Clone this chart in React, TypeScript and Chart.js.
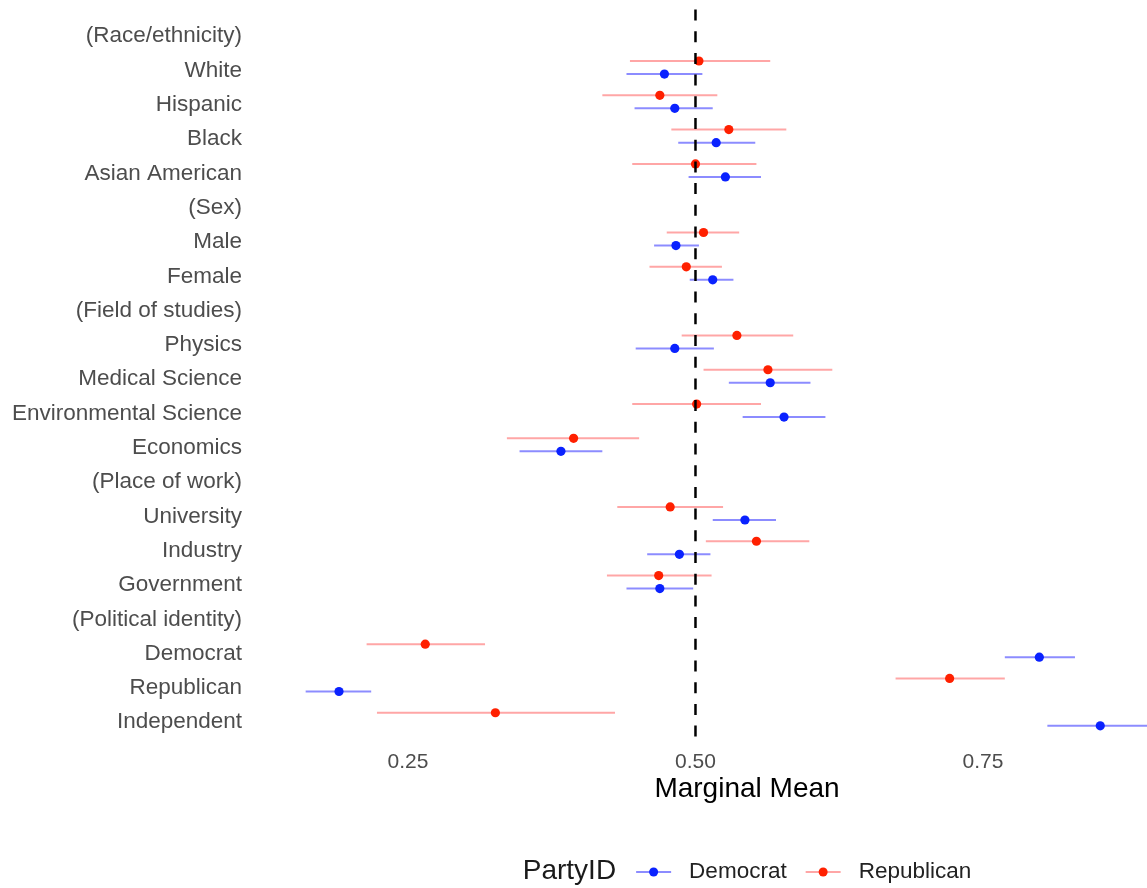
import React, { useEffect, useRef } from 'react';
import { Chart, registerables } from 'chart.js';

Chart.register(...registerables);

const FONT = "'Liberation Sans', Arial, Helvetica, sans-serif";

const LABELS = [
  '(Race/ethnicity)', 'White', 'Hispanic', 'Black', 'Asian American',
  '(Sex)', 'Male', 'Female',
  '(Field of studies)', 'Physics', 'Medical Science', 'Environmental Science', 'Economics',
  '(Place of work)', 'University', 'Industry', 'Government',
  '(Political identity)', 'Democrat', 'Republican', 'Independent',
];

const REP_MEAN = [null, 0.503, 0.469, 0.529, 0.500, null, 0.507, 0.492, null, 0.536, 0.563, 0.501, 0.394, null, 0.478, 0.553, 0.468, null, 0.265, 0.721, 0.326];
const REP_LO = [null, 0.443, 0.419, 0.479, 0.445, null, 0.475, 0.460, null, 0.488, 0.507, 0.445, 0.336, null, 0.432, 0.509, 0.423, null, 0.214, 0.674, 0.223];
const REP_HI = [null, 0.565, 0.519, 0.579, 0.553, null, 0.538, 0.523, null, 0.585, 0.619, 0.557, 0.451, null, 0.524, 0.599, 0.514, null, 0.317, 0.769, 0.430];

const DEM_MEAN = [null, 0.473, 0.482, 0.518, 0.526, null, 0.483, 0.515, null, 0.482, 0.565, 0.577, 0.383, null, 0.543, 0.486, 0.469, null, 0.799, 0.190, 0.852];
const DEM_LO = [null, 0.440, 0.447, 0.485, 0.494, null, 0.464, 0.495, null, 0.448, 0.529, 0.541, 0.347, null, 0.515, 0.458, 0.440, null, 0.769, 0.161, 0.806];
const DEM_HI = [null, 0.506, 0.515, 0.552, 0.557, null, 0.503, 0.533, null, 0.516, 0.600, 0.613, 0.419, null, 0.570, 0.513, 0.498, null, 0.830, 0.218, 0.898];

const X_TICKS = [0.25, 0.5, 0.75];
const REF_LINE = 0.5;
const X_MIN = 0.1126;
const X_MAX = 0.977;
const Y_MIN = -0.75;
const Y_MAX = 20.75;
const DODGE = 0.19;

const REP_POINT = '#ff2000';
const DEM_POINT = '#0a22ff';
const REP_LINE = 'rgba(255,0,0,0.35)';
const DEM_LINE = 'rgba(0,0,255,0.45)';

const LEGEND_TITLE = 'PartyID';
const SERIES = [
  { name: 'Democrat', point: DEM_POINT, line: DEM_LINE },
  { name: 'Republican', point: REP_POINT, line: REP_LINE },
];

const CANVAS_W = 1244;
const CANVAS_H = 888;

function pointsFor(mean: (number | null)[], offset: number) {
  const out: { x: number; y: number }[] = [];
  mean.forEach((m, i) => {
    if (m !== null) out.push({ x: m, y: i + offset });
  });
  return out;
}

function barsFor(lo: (number | null)[], hi: (number | null)[], offset: number) {
  const out: { x: number | null; y: number | null }[] = [];
  lo.forEach((l, i) => {
    const h = hi[i];
    if (l !== null && h !== null) {
      out.push({ x: l, y: i + offset });
      out.push({ x: h, y: i + offset });
      out.push({ x: null, y: null });
    }
  });
  return out;
}

const legendPlugin = {
  id: 'partyLegend',
  afterDraw(chart: any) {
    const ctx = chart.ctx as CanvasRenderingContext2D;
    ctx.save();
    const y = 871;
    const titleFont = `28px ${FONT}`;
    const itemFont = `22.5px ${FONT}`;
    ctx.font = titleFont;
    const titleW = ctx.measureText(LEGEND_TITLE).width;
    ctx.font = itemFont;
    const itemWs = SERIES.map((s) => ctx.measureText(s.name).width);
    let total = titleW + 20;
    itemWs.forEach((w, i) => {
      total += 35 + 18 + w + (i < itemWs.length - 1 ? 19 : 0);
    });
    const center = (chart.chartArea.left + chart.chartArea.right) / 2;
    let x = center - total / 2;
    ctx.textBaseline = 'middle';
    ctx.textAlign = 'left';
    ctx.font = titleFont;
    ctx.fillStyle = '#1a1a1a';
    ctx.fillText(LEGEND_TITLE, x, y);
    x += titleW + 20;
    SERIES.forEach((s, i) => {
      ctx.strokeStyle = s.line;
      ctx.lineWidth = 2;
      ctx.beginPath();
      ctx.moveTo(x, y + 1);
      ctx.lineTo(x + 35, y + 1);
      ctx.stroke();
      ctx.fillStyle = s.point;
      ctx.beginPath();
      ctx.arc(x + 17.5, y + 1, 4.5, 0, Math.PI * 2);
      ctx.fill();
      x += 35 + 18;
      ctx.font = itemFont;
      ctx.fillStyle = '#222222';
      ctx.fillText(s.name, x, y + 1);
      x += itemWs[i] + 19;
    });
    ctx.restore();
  },
};

export default function App() {
  const canvasRef = useRef<HTMLCanvasElement | null>(null);

  useEffect(() => {
    if (!canvasRef.current) return;
    Chart.defaults.font.family = FONT;
    const chart = new Chart(canvasRef.current, {
      type: 'scatter',
      data: {
        datasets: [
          {
            label: 'ref',
            data: [
              { x: REF_LINE, y: Y_MIN },
              { x: REF_LINE, y: Y_MAX },
            ],
            showLine: true,
            borderColor: '#000000',
            borderWidth: 2.5,
            borderDash: [11, 10.7],
            borderDashOffset: -2,
            pointRadius: 0,
          },
          {
            label: 'Republican',
            data: pointsFor(REP_MEAN, -DODGE),
            backgroundColor: REP_POINT,
            borderWidth: 0,
            pointRadius: 4.6,
          },
          {
            label: 'Democrat',
            data: pointsFor(DEM_MEAN, DODGE),
            backgroundColor: DEM_POINT,
            borderWidth: 0,
            pointRadius: 4.6,
          },
          {
            label: 'Republican CI',
            data: barsFor(REP_LO, REP_HI, -DODGE) as any,
            showLine: true,
            spanGaps: false,
            borderColor: REP_LINE,
            borderWidth: 2,
            pointRadius: 0,
          },
          {
            label: 'Democrat CI',
            data: barsFor(DEM_LO, DEM_HI, DODGE) as any,
            showLine: true,
            spanGaps: false,
            borderColor: DEM_LINE,
            borderWidth: 2,
            pointRadius: 0,
          },
        ],
      },
      options: {
        animation: false,
        responsive: false,
        layout: { autoPadding: false, padding: { top: 7.5, bottom: 82.2, left: 0, right: 0 } },
        plugins: {
          legend: { display: false },
          tooltip: { enabled: false },
        },
        scales: {
          x: {
            type: 'linear',
            min: X_MIN,
            max: X_MAX,
            grid: { display: false, drawTicks: false },
            border: { display: false },
            afterBuildTicks: (scale: any) => {
              scale.ticks = X_TICKS.map((v) => ({ value: v }));
            },
            afterFit: (scale: any) => {
              scale.height = 60.8;
              scale.paddingLeft = 0;
              scale.paddingRight = 0;
            },
            ticks: {
              padding: 5,
              color: '#4d4d4d',
              font: { size: 21, family: FONT },
              callback: (v: any) => Number(v).toFixed(2),
            },
            title: {
              display: true,
              text: 'Marginal Mean',
              color: '#000000',
              font: { size: 28, family: FONT },
              padding: { top: 0, bottom: 0 },
            },
          },
          y: {
            type: 'linear',
            min: Y_MIN,
            max: Y_MAX,
            reverse: true,
            grid: { display: false, drawTicks: false },
            border: { display: false },
            afterBuildTicks: (scale: any) => {
              scale.ticks = LABELS.map((_, i) => ({ value: i }));
            },
            afterFit: (scale: any) => {
              scale.width = 250;
              scale.paddingTop = 0;
              scale.paddingBottom = 0;
            },
            ticks: {
              padding: 8,
              labelOffset: 3,
              color: '#4d4d4d',
              autoSkip: false,
              font: { size: 22.5, family: FONT },
              callback: (v: any) => LABELS[Math.round(Number(v))] ?? '',
            },
          },
        },
      },
      plugins: [legendPlugin],
    });
    return () => chart.destroy();
  }, []);

  return (
    <div style={{ position: 'fixed', left: 0, top: 0, width: 1147, height: 888, overflow: 'hidden', background: '#ffffff' }}>
      <canvas ref={canvasRef} width={CANVAS_W} height={CANVAS_H} style={{ width: CANVAS_W, height: CANVAS_H, display: 'block' }} />
    </div>
  );
}
